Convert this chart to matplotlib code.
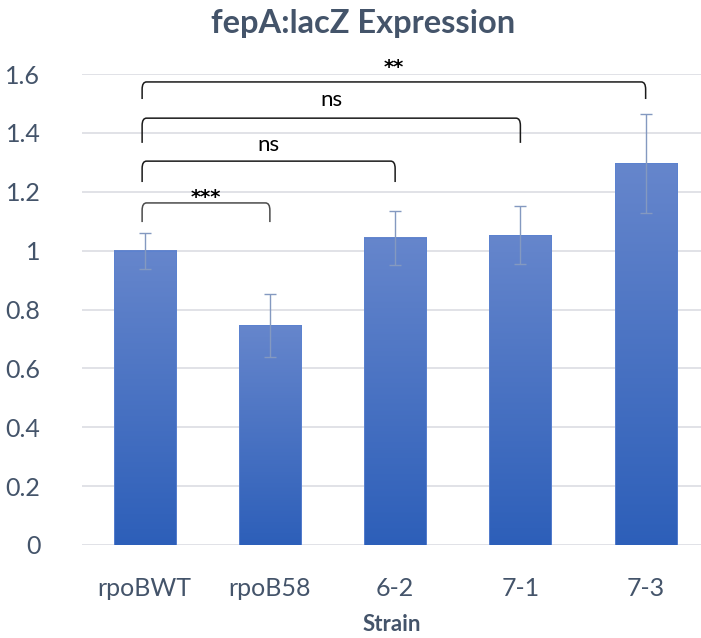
import numpy as np
import matplotlib
matplotlib.use("Agg")
from matplotlib import pyplot as plt
from matplotlib.colors import LinearSegmentedColormap
from matplotlib.path import Path
from matplotlib.patches import PathPatch

strains = ["rpoBWT", "rpoB58", "6-2", "7-1", "7-3"]
expression = [1.0, 0.747, 1.043, 1.053, 1.297]
errors = [0.061, 0.107, 0.092, 0.100, 0.168]

# (left bar, right bar, label, bracket top, leg bottom, label y)
comparisons = [
    (0, 1, "***", 1.162, 1.097, 1.192),
    (0, 2, "ns", 1.304, 1.233, 1.359),
    (0, 3, "ns", 1.450, 1.366, 1.512),
    (0, 4, "**", 1.573, 1.515, 1.634),
]

plt.rcParams['font.family'] = ['Lato', 'DejaVu Sans']
text_col = '#44546a'

fig = plt.figure(figsize=(7.01, 6.38), dpi=100)
ax = fig.add_axes([82 / 701, 93 / 638, 619 / 701, 471 / 638])

x = np.arange(len(strains))
width = 0.495
grad_cmap = LinearSegmentedColormap.from_list('bar', ['#2d5fb9', '#6686cc'])
grad = np.linspace(0, 1, 256).reshape(-1, 1)

for xi, h in zip(x, expression):
    ax.imshow(grad, extent=[xi - width / 2, xi + width / 2, 0, h], origin='lower',
              aspect='auto', cmap=grad_cmap, zorder=2)
ax.bar(x, expression, width=width, color='none', edgecolor='#5b82d0', linewidth=0.6, zorder=2.5)

ax.errorbar(x, expression, yerr=errors, fmt='none', ecolor='#8499c0',
            elinewidth=1.0, capsize=4, capthick=1.0, zorder=3)

# brackets with slightly rounded corners
rx, ry = 0.035, 0.025
for a, b, lab, top, bot, ty in comparisons:
    x0, x1 = x[a] - 0.02, x[b]
    verts = [(x0, bot), (x0, top - ry), (x0, top), (x0 + rx, top),
             (x1 - rx, top), (x1, top), (x1, top - ry), (x1, bot)]
    codes = [Path.MOVETO, Path.LINETO, Path.CURVE3, Path.CURVE3,
             Path.LINETO, Path.CURVE3, Path.CURVE3, Path.LINETO]
    col = '#4a4a4a' if lab == "***" else '#1a1a1a'
    ax.add_patch(PathPatch(Path(verts, codes), fill=False, edgecolor=col, lw=1.1,
                           clip_on=False, zorder=4))
    if '*' in lab:
        ax.text((x0 + x1) / 2, ty - 0.012, lab, ha='center', va='center', fontsize=14,
                fontweight='bold', family='DejaVu Sans', color='black', clip_on=False)
    else:
        ax.text((x0 + x1) / 2, ty, lab, ha='center', va='center', fontsize=16,
                color='black', clip_on=False)

ax.set_xlim(-0.5, 4.442)
ax.set_ylim(0, 1.6)
ax.set_yticks(np.arange(0, 1.61, 0.2))
ax.set_yticklabels(["0", "0.2", "0.4", "0.6", "0.8", "1", "1.2", "1.4", "1.6"])
ax.set_xticks(x)
ax.set_xticklabels(strains)
ax.tick_params(axis='both', length=0, labelsize=18, colors=text_col)
ax.tick_params(axis='y', pad=30)
ax.tick_params(axis='x', pad=23)
ax.grid(axis='y', color='#dcdde3', lw=1.2, zorder=0)
ax.set_axisbelow(True)
for s in ax.spines.values():
    s.set_visible(False)

ax.set_xlabel("Strain", fontsize=16, fontweight='bold', color=text_col, labelpad=10)
fig.text(363 / 701, 1 - 23 / 638, "fepA:lacZ Expression", ha='center', va='center',
         fontsize=23.5, fontweight='bold', color=text_col)

fig.savefig("out.png", dpi=100)
